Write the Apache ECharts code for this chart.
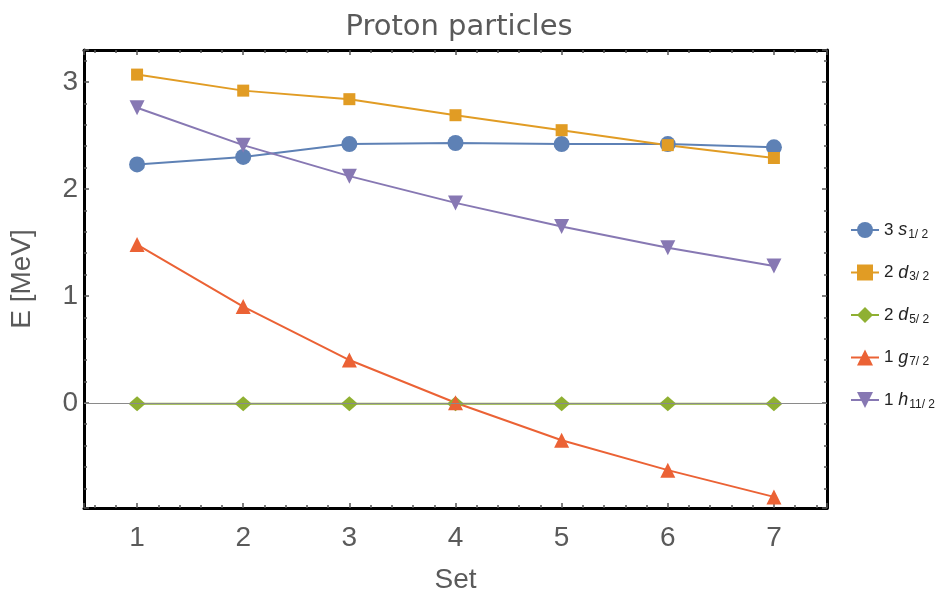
<!DOCTYPE html>
<html>
<head>
<meta charset="utf-8">
<script src="https://cdn.jsdelivr.net/npm/echarts@6/dist/echarts.min.js"></script>
<style>
  html, body { margin: 0; padding: 0; background: #fff; }
  #chart { width: 949px; height: 603px; }
</style>
</head>
<body>
<div id="chart"></div>
<script>
// Parameter sets on the horizontal axis
const sets = [1, 2, 3, 4, 5, 6, 7];

// Single-particle energies (MeV) per proton level
const s1_2  = [2.23, 2.30, 2.42, 2.43, 2.42, 2.42, 2.39];
const d3_2  = [3.07, 2.92, 2.84, 2.69, 2.55, 2.41, 2.29];
const d5_2  = [-0.01, -0.01, -0.01, -0.01, -0.01, -0.01, -0.01];
const g7_2  = [1.48, 0.90, 0.40, 0.00, -0.35, -0.63, -0.88];
const h11_2 = [2.76, 2.41, 2.12, 1.87, 1.65, 1.45, 1.28];

// Level names and their rich-text legend labels
const levelNames = ['3s1/2', '2d3/2', '2d5/2', '1g7/2', '1h11/2'];
const levelLabels = {
  '3s1/2':  '{n|3 }{i|s}{sub|1/ 2}',
  '2d3/2':  '{n|2 }{i|d}{sub|3/ 2}',
  '2d5/2':  '{n|2 }{i|d}{sub|5/ 2}',
  '1g7/2':  '{n|1 }{i|g}{sub|7/ 2}',
  '1h11/2': '{n|1 }{i|h}{sub|11/ 2}'
};

const colors = ['#5E81B5', '#E19C24', '#8FB032', '#EB6235', '#8778B3'];
const font = '"Liberation Sans", Arial, sans-serif';

function pairs(vals) {
  return sets.map((x, i) => [x, vals[i]]);
}

function lineSeries(name, vals, color, symbol, size, extra) {
  return Object.assign({
    name: name,
    type: 'line',
    data: pairs(vals),
    symbol: symbol,
    symbolSize: size,
    showAllSymbol: true,
    lineStyle: { color: color, width: 2 },
    itemStyle: { color: color },
    emphasis: { disabled: true },
    animation: false,
    xAxisIndex: 0,
    yAxisIndex: 0
  }, extra || {});
}

function frameAxis() {
  return {
    axisLine: { show: true, onZero: false, lineStyle: { color: '#000', width: 3 } },
    axisTick: { show: true, inside: true, length: 5, lineStyle: { color: '#555', width: 1.5 } },
    minorTick: { show: true, splitNumber: 5, length: 3, lineStyle: { color: '#555', width: 1.5 } },
    splitLine: { show: false },
    minorSplitLine: { show: false }
  };
}

const xBase = { type: 'value', min: 0.5, max: 7.5, splitNumber: 7 };
const yBase = { type: 'value', min: -0.984, max: 3.3, splitNumber: 4 };

const chart = echarts.init(document.getElementById('chart'), null, { renderer: 'canvas' });

chart.setOption({
  backgroundColor: '#fff',
  animation: false,
  title: {
    text: 'Proton particles',
    left: 454,
    textAlign: 'center',
    top: 8,
    textStyle: { fontFamily: '"DejaVu Sans", sans-serif', fontSize: 29, fontWeight: 'normal', color: '#5a5a5a' }
  },
  grid: { left: 81, top: 50, right: 122, bottom: 95, containLabel: false },
  legend: {
    orient: 'vertical',
    left: 845,
    top: 216,
    itemGap: 23,
    itemWidth: 28,
    itemHeight: 20,
    data: levelNames,
    formatter: name => levelLabels[name],
    textStyle: {
      color: '#222',
      fontFamily: font,
      rich: {
        n: { fontSize: 17, fontFamily: font, color: '#222' },
        i: { fontSize: 18, fontFamily: font, fontStyle: 'italic', color: '#222' },
        sub: { fontSize: 12, fontFamily: font, color: '#222', padding: [9, 0, 0, 1] }
      }
    }
  },
  xAxis: [
    Object.assign({}, xBase, frameAxis(), {
      position: 'bottom',
      name: 'Set',
      nameLocation: 'middle',
      nameGap: 58,
      nameTextStyle: { fontFamily: font, fontSize: 28, color: '#5a5a5a' },
      axisLabel: {
        margin: 16,
        fontFamily: font, fontSize: 28, color: '#5a5a5a',
        formatter: v => (Number.isInteger(v) ? String(v) : '')
      }
    }),
    Object.assign({}, xBase, frameAxis(), {
      position: 'top',
      axisLabel: { show: false }
    })
  ],
  yAxis: [
    Object.assign({}, yBase, frameAxis(), {
      position: 'left',
      name: 'E [MeV]',
      nameLocation: 'middle',
      nameGap: 48,
      nameTextStyle: { fontFamily: font, fontSize: 28, color: '#5a5a5a' },
      axisLabel: {
        margin: 6,
        fontFamily: font, fontSize: 28, color: '#5a5a5a',
        formatter: v => (Number.isInteger(v) && v >= 0 ? String(v) : '')
      }
    }),
    Object.assign({}, yBase, frameAxis(), {
      position: 'right',
      axisLabel: { show: false }
    })
  ],
  series: [
    lineSeries('3s1/2', s1_2, colors[0], 'circle', 16),
    lineSeries('2d3/2', d3_2, colors[1], 'rect', 12),
    lineSeries('2d5/2', d5_2, colors[2], 'diamond', [17, 15], {
      markLine: {
        silent: true,
        symbol: 'none',
        label: { show: false },
        lineStyle: { color: '#8a8a8a', width: 1, type: 'solid' },
        data: [{ yAxis: 0 }],
        animation: false
      }
    }),
    lineSeries('1g7/2', g7_2, colors[3], 'triangle', 15),
    lineSeries('1h11/2', h11_2, colors[4], 'triangle', 15, { symbolRotate: 180 })
  ]
});
</script>
</body>
</html>
